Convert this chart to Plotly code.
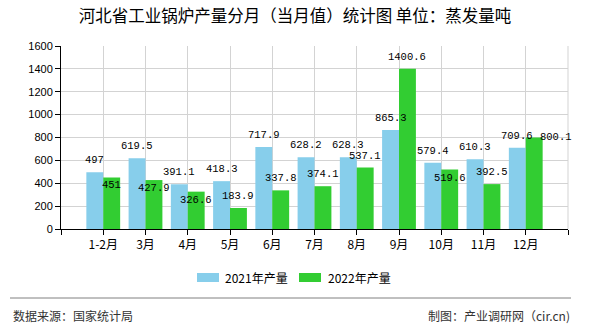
import plotly.graph_objects as go

# ---- data ----
categories = ["1-2月", "3月", "4月", "5月", "6月", "7月", "8月", "9月", "10月", "11月", "12月"]
output_2021 = [497, 619.5, 391.1, 418.3, 717.9, 628.2, 628.3, 865.3, 579.4, 610.3, 709.6]
output_2022 = [451, 427.9, 326.6, 183.9, 337.8, 374.1, 537.1, 1400.6, 519.6, 392.5, 800.1]
series_names = ["2021年产量", "2022年产量"]
y_ticks = [0, 200, 400, 600, 800, 1000, 1200, 1400, 1600]
title_text = "河北省工业锅炉产量分月（当月值）统计图 单位：蒸发量吨"
source_text = "数据来源：国家统计局"
credit_text = "制图：产业调研网（cir.cn)"

# label placement for 2022 values (style only)
label_place_2022 = ["in", "in", "in", "out", "out", "out", "out", "out", "in", "out", "right"]

# ---- geometry ----
W, H = 590, 330
ML, MR, MT, MB = 61, 22, 46, 101
PW = W - ML - MR
PH = H - MT - MB


def px(x):
    return (x - ML) / PW


def py(y):
    return (H - MB - y) / PH


BLUE = "#87CEEB"
GREEN = "#32CD32"
GRID = "#d3d3d3"

idx = list(range(len(categories)))

fig = go.Figure()
fig.add_bar(x=idx, y=output_2021, name=series_names[0], marker=dict(color=BLUE, line=dict(width=0)))
fig.add_bar(x=idx, y=output_2022, name=series_names[1], marker=dict(color=GREEN, line=dict(width=0)))

label_font = dict(family="Liberation Mono, DejaVu Sans Mono, monospace", size=10.5, color="#000")
annotations = []
for i, v in zip(idx, output_2021):
    annotations.append(dict(x=i - 0.2, y=v, xref="x", yref="y", text=f"{v:g}", showarrow=False,
                            yanchor="middle", xanchor="center", yshift=12, font=label_font))
for i, v, p in zip(idx, output_2022, label_place_2022):
    ys, xs = 12, 0
    if p == "in":
        ys = -8
    elif p == "right":
        ys, xs = 0, 22
    annotations.append(dict(x=i + 0.2, y=v, xref="x", yref="y", text=f"{v:g}", showarrow=False,
                            yanchor="middle", xanchor="center", yshift=ys, xshift=xs, font=label_font))

# custom legend
leg_font = dict(family="Noto Sans CJK SC, sans-serif", size=12, color="#000")
shapes = []
leg_items = [(197, 219, 223, BLUE, series_names[0]), (299, 321, 326, GREEN, series_names[1])]
for x0, x1, xt, col, name in leg_items:
    shapes.append(dict(type="rect", xref="paper", yref="paper", x0=px(x0), x1=px(x1),
                       y0=py(282), y1=py(273), fillcolor=col, line=dict(width=0)))
    annotations.append(dict(x=px(xt), y=py(277.5), xref="paper", yref="paper", text=name,
                            showarrow=False, xanchor="left", yanchor="middle", font=leg_font))

# right border gridline
shapes.append(dict(type="line", xref="paper", yref="paper", x0=1, x1=1, y0=0, y1=1,
                   line=dict(color=GRID, width=1), layer="below"))
# footer separator
shapes.append(dict(type="line", xref="paper", yref="paper", x0=px(10), x1=px(571), y0=py(298), y1=py(298),
                   line=dict(color="#808080", width=1)))

foot_font = dict(family="Noto Sans CJK SC, sans-serif", size=12, color="#333")
annotations.append(dict(x=px(11), y=py(315), xref="paper", yref="paper", text=source_text, showarrow=False,
                        xanchor="left", yanchor="middle", font=foot_font))
annotations.append(dict(x=px(572), y=py(315), xref="paper", yref="paper", text=credit_text, showarrow=False,
                        xanchor="right", yanchor="middle", font=foot_font))

fig.update_layout(
    width=W, height=H,
    margin=dict(l=ML, r=MR, t=MT, b=MB, pad=0),
    paper_bgcolor="white", plot_bgcolor="white",
    barmode="group", bargap=0.2, bargroupgap=0,
    showlegend=False,
    title=dict(text=title_text, x=0.5, xref="container", xanchor="center",
               y=1 - 16.7 / H, yanchor="middle",
               font=dict(family="Noto Sans CJK SC, sans-serif", size=16.5, color="#000")),
    annotations=annotations,
    shapes=shapes,
    xaxis=dict(
        range=[-1, len(categories)],
        tickmode="array",
        tickvals=[-1] + idx + [len(categories)],
        ticktext=[""] + categories + [""],
        ticks="outside", ticklen=5, tickcolor="#000",
        showline=True, linecolor="#000", linewidth=1,
        showgrid=True, gridcolor=GRID, gridwidth=1,
        zeroline=False,
        tickfont=dict(family="Noto Sans CJK SC, sans-serif", size=12, color="#000"),
        fixedrange=True,
    ),
    yaxis=dict(
        range=[0, 1600],
        tickmode="array", tickvals=y_ticks,
        ticks="outside", ticklen=5, tickcolor="#000",
        showline=True, linecolor="#000", linewidth=1,
        showgrid=True, gridcolor=GRID, gridwidth=1,
        zeroline=False,
        tickfont=dict(family="Liberation Sans, Arial, sans-serif", size=11, color="#000"),
        fixedrange=True,
    ),
)

fig.write_html("out.html", config={"displayModeBar": False})
